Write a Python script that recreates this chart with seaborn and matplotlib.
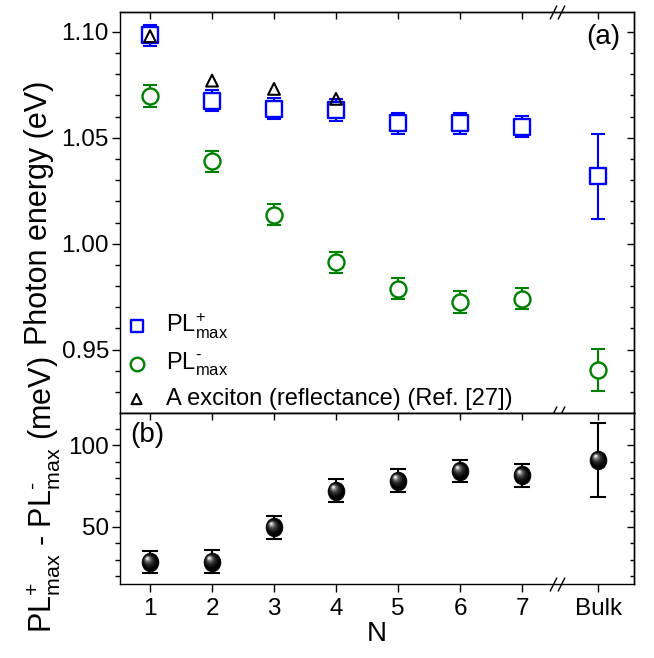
import numpy as np
import pandas as pd
import matplotlib
matplotlib.use("Agg")
import matplotlib.pyplot as plt
import seaborn as sns
from matplotlib.ticker import MultipleLocator, NullFormatter, FormatStrFormatter
from matplotlib.transforms import offset_copy, blended_transform_factory, Affine2D
from matplotlib.markers import MarkerStyle

# ---------------- data ----------------
n_labels = ["1", "2", "3", "4", "5", "6", "7", "Bulk"]
n_pos = [1, 2, 3, 4, 5, 6, 7, 8.23]

pl_plus = [1.0984, 1.0676, 1.0637, 1.0631, 1.0568, 1.0568, 1.0552, 1.0319]
pl_plus_err = [0.005, 0.005, 0.005, 0.005, 0.005, 0.005, 0.005, 0.020]

pl_minus = [1.0697, 1.0390, 1.0138, 0.9912, 0.9787, 0.9725, 0.9740, 0.9405]
pl_minus_err = [0.005, 0.005, 0.005, 0.005, 0.005, 0.005, 0.005, 0.010]

exc_pos = [1, 2, 3, 4]
exciton = [1.0980, 1.0770, 1.0731, 1.0684]

diff = [28.6, 28.8, 49.8, 72.2, 78.4, 84.3, 81.6, 91.2]
diff_err = [7, 7, 7, 7, 7, 7, 7, 22.6]

df_top = pd.DataFrame({"N": n_pos, "plus": pl_plus, "minus": pl_minus})
df_exc = pd.DataFrame({"N": exc_pos, "exc": exciton})
df_bot = pd.DataFrame({"N": n_pos, "diff": diff})

BLUE = "#0000ff"
GREEN = "#008000"

# ---------------- style ----------------
sns.set_theme(style="ticks")
plt.rcParams["font.family"] = ["Liberation Sans", "DejaVu Sans"]
plt.rcParams["mathtext.fontset"] = "custom"
plt.rcParams["mathtext.rm"] = "Liberation Sans"
plt.rcParams["mathtext.it"] = "Liberation Sans:italic"
plt.rcParams["mathtext.bf"] = "Liberation Sans:bold"
plt.rcParams["axes.linewidth"] = 1.0
for key in ["text.color", "axes.labelcolor", "xtick.color", "ytick.color",
            "axes.edgecolor", "xtick.labelcolor", "ytick.labelcolor"]:
    plt.rcParams[key] = "black"

TICK_FS = 17.5
LABEL_FS = 22
PANEL_FS = 20
LEG_FS = 17

fig = plt.figure(figsize=(6.54, 6.58), dpi=100)
ax1 = fig.add_axes([0.1835, 0.3723, 0.7859, 0.6095])
ax2 = fig.add_axes([0.1835, 0.1125, 0.7859, 0.2598])

# ---------------- top panel ----------------
ax1.errorbar(n_pos, pl_plus, yerr=pl_plus_err, fmt="none", ecolor=BLUE,
             elinewidth=1.5, capsize=5, capthick=1.5, zorder=2)
ax1.errorbar(n_pos, pl_minus, yerr=pl_minus_err, fmt="none", ecolor=GREEN,
             elinewidth=1.5, capsize=5, capthick=1.5, zorder=2)
sns.scatterplot(data=df_top, x="N", y="plus", marker="s", s=11 ** 2,
                color="white", edgecolor=BLUE, linewidth=1.7, ax=ax1, zorder=3)
h_plus = ax1.collections[-1]
sns.scatterplot(data=df_top, x="N", y="minus", marker="o", s=11.5 ** 2,
                color="white", edgecolor=GREEN, linewidth=1.7, ax=ax1, zorder=3)
h_minus = ax1.collections[-1]
sns.scatterplot(data=df_exc, x="N", y="exc", marker="^", s=8.5 ** 2,
                color="black", edgecolor="black", linewidth=1.5, ax=ax1, zorder=4)
h_exc = ax1.collections[-1]
h_exc.set_facecolor("none")

ax1.set_xlim(0.516, 8.806)
ax1.set_ylim(0.9201, 1.1094)
ax1.set_xlabel("")
ax1.set_ylabel("Photon energy (eV)", fontsize=LABEL_FS)
ax1.yaxis.set_label_coords(-0.128, 0.5)
ax1.set_xticks(n_pos)
ax1.xaxis.set_major_formatter(NullFormatter())
ax1.yaxis.set_major_locator(MultipleLocator(0.05))
ax1.yaxis.set_minor_locator(MultipleLocator(0.01))
ax1.yaxis.set_major_formatter(FormatStrFormatter("%.2f"))
ax1.tick_params(axis="x", which="major", direction="out", length=6, width=1)
ax1.tick_params(axis="y", which="major", direction="out", length=6, width=1,
                labelsize=TICK_FS, pad=2)
ax1.tick_params(axis="y", which="minor", direction="out", length=3.5, width=1)

sx1 = ax1.secondary_xaxis("top")
sx1.set_xticks(n_pos)
sx1.xaxis.set_major_formatter(NullFormatter())
sx1.tick_params(axis="x", direction="in", length=5, width=1)
sy1 = ax1.secondary_yaxis("right")
sy1.yaxis.set_major_locator(MultipleLocator(0.05))
sy1.yaxis.set_minor_locator(MultipleLocator(0.01))
sy1.yaxis.set_major_formatter(NullFormatter())
sy1.tick_params(axis="y", which="major", direction="in", length=5, width=1)
sy1.tick_params(axis="y", which="minor", direction="in", length=3, width=1)

ax1.text(0.973, 0.938, "(a)", transform=ax1.transAxes, ha="right",
         va="center", fontsize=PANEL_FS)

leg = ax1.legend([h_plus, h_minus, h_exc],
                 [r"$\mathrm{PL^{+}_{max}}$", "$\\mathrm{PL^{\u2010}_{max}}$",
                  "A exciton (reflectance) (Ref. [27])"],
                 loc="lower left", bbox_to_anchor=(0.0, -0.005), frameon=False,
                 fontsize=LEG_FS, markerscale=0.85, handlelength=1.0,
                 handletextpad=0.75, labelspacing=0.42, borderaxespad=0.0,
                 borderpad=0.2)

# ---------------- bottom panel ----------------
ax2.errorbar(n_pos, diff, yerr=diff_err, fmt="none", ecolor="black",
             elinewidth=1.5, capsize=6, capthick=1.5, zorder=2)
ell = MarkerStyle("o", transform=Affine2D().scale(0.9, 1.0))
sns.scatterplot(data=df_bot, x="N", y="diff", marker=ell, s=13.5 ** 2,
                color="black", edgecolor="black", linewidth=0.5, ax=ax2, zorder=3)
# glossy highlight layers (same data points, shifted to upper-left)
layers = [(9.5, "#151515", -0.5, 0.7), (7.4, "#2e2e2e", -0.9, 1.2),
          (5.5, "#575757", -1.3, 1.7), (3.8, "#8c8c8c", -1.6, 2.1),
          (2.4, "#c4c4c4", -1.8, 2.4), (1.3, "#eeeeee", -1.9, 2.5)]
for size, col, dx, dy in layers:
    tr = offset_copy(ax2.transData, fig=fig, x=dx, y=dy, units="points")
    ax2.scatter(df_bot["N"], df_bot["diff"], s=size ** 2, color=col,
                edgecolors="none", transform=tr, zorder=4)

ax2.set_xlim(0.516, 8.806)
ax2.set_ylim(15.1, 119.8)
ax2.set_xticks(n_pos)
ax2.set_xticklabels(n_labels)
ax2.yaxis.set_major_locator(MultipleLocator(50))
ax2.yaxis.set_minor_locator(MultipleLocator(10))
ax2.tick_params(axis="x", which="major", direction="out", length=6, width=1,
                labelsize=TICK_FS, pad=4)
ax2.tick_params(axis="y", which="major", direction="out", length=6, width=1,
                labelsize=TICK_FS, pad=2)
ax2.tick_params(axis="y", which="minor", direction="out", length=3.5, width=1)
ax2.set_xlabel("N", fontsize=20, labelpad=1)
ax2.set_ylabel("$\\mathrm{PL^{+}_{max}}$ - $\\mathrm{PL^{\u2010}_{max}}$ (meV)",
               fontsize=LABEL_FS)
ax2.yaxis.set_label_coords(-0.113, 0.52)

sx2 = ax2.secondary_xaxis("top")
sx2.set_xticks(n_pos)
sx2.xaxis.set_major_formatter(NullFormatter())
sx2.tick_params(axis="x", direction="in", length=5, width=1)
sy2 = ax2.secondary_yaxis("right")
sy2.yaxis.set_major_locator(MultipleLocator(50))
sy2.yaxis.set_minor_locator(MultipleLocator(10))
sy2.yaxis.set_major_formatter(NullFormatter())
sy2.tick_params(axis="y", which="major", direction="in", length=5, width=1)
sy2.tick_params(axis="y", which="minor", direction="in", length=3, width=1)

ax2.text(0.02, 0.87, "(b)", transform=ax2.transAxes, ha="left",
         va="center", fontsize=PANEL_FS)

# ---------------- axis break marks ----------------
slash = [(-0.5, -1.0), (0.5, 1.0)]
def draw_break(ax, yfrac):
    tr = blended_transform_factory(ax.transData, ax.transAxes)
    for xb in (7.50, 7.63):
        ax.plot([xb], [yfrac], marker=slash, markersize=10, color="black",
                markeredgewidth=1.0, linestyle="none", transform=tr,
                clip_on=False, zorder=10)

draw_break(ax1, 1.0)
draw_break(ax1, 0.0)
draw_break(ax2, 0.0)

fig.savefig("out.png", dpi=100)
